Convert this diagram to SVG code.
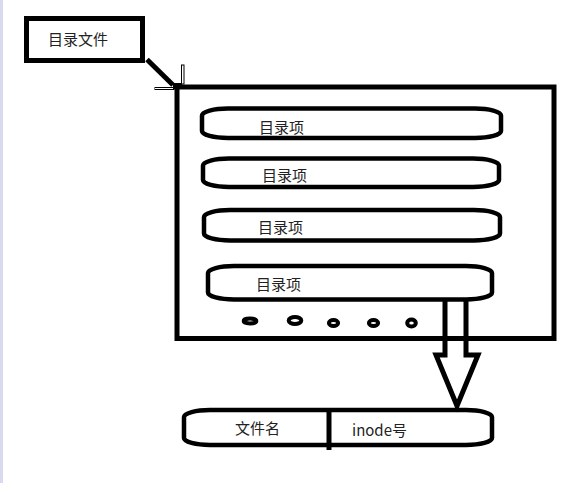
<svg xmlns="http://www.w3.org/2000/svg" width="584" height="483" viewBox="0 0 584 483">
  <defs>
    <style>
      .box { fill: none; stroke: #000; stroke-width: 5; }
      .pill { fill: #fff; stroke: #000; stroke-width: 4.5; }
      .dot { fill: none; stroke: #000; stroke-width: 4; }
      .lbl { font-family: "Noto Sans CJK SC", "Liberation Sans", sans-serif; font-size: 15px; fill: #222; }
      .thin { fill: none; stroke: #000; stroke-width: 1; }
    </style>
  </defs>
  <rect x="0" y="0" width="584" height="483" fill="#fff"/>
  <rect x="0" y="0" width="3" height="483" fill="#dadaee"/>

  <g id="dir-file">
    <rect class="box" x="26.5" y="18.5" width="116" height="42"/>
    <text class="lbl" x="48" y="44.5">目录文件</text>
  </g>

  <g id="dir-container">
    <rect class="box" x="177" y="87" width="377" height="251.5"/>
  </g>

  <g id="entry-1">
    <rect class="pill" x="202" y="108.5" width="299" height="29.5" rx="26" ry="7"/>
    <text class="lbl" x="259" y="132.5">目录项</text>
  </g>
  <g id="entry-2">
    <rect class="pill" x="203" y="158.5" width="296" height="28.5" rx="26" ry="7"/>
    <text class="lbl" x="262" y="180.5">目录项</text>
  </g>
  <g id="entry-3">
    <rect class="pill" x="204" y="210" width="296" height="30.5" rx="26" ry="7"/>
    <text class="lbl" x="258" y="232.5">目录项</text>
  </g>
  <g id="entry-4">
    <rect class="pill" x="208" y="266" width="284" height="33.5" rx="26" ry="7"/>
    <text class="lbl" x="256" y="289.5">目录项</text>
  </g>

  <g id="ellipsis">
    <ellipse class="dot" cx="250" cy="321" rx="6.3" ry="2.4"/>
    <ellipse class="dot" cx="295" cy="320.5" rx="6.3" ry="3.5"/>
    <ellipse class="dot" cx="333.5" cy="323" rx="4.6" ry="3"/>
    <ellipse class="dot" cx="373.5" cy="323" rx="4.6" ry="3"/>
    <ellipse class="dot" cx="411.5" cy="323" rx="4.3" ry="3.5"/>
  </g>

  <g id="entry-detail">
    <rect class="pill" x="184" y="410" width="308" height="35" rx="26" ry="7"/>
    <line x1="329" y1="408" x2="329" y2="450" stroke="#000" stroke-width="5"/>
    <text class="lbl" x="235" y="433.5">文件名</text>
    <text class="lbl" x="352" y="436">inode号</text>
  </g>

  <g id="connectors">
    <line x1="147" y1="59.5" x2="173" y2="85" stroke="#000" stroke-width="5"/>
    <rect class="thin" x="181.5" y="65" width="2.5" height="19"/>
    <rect class="thin" x="155" y="87.5" width="19" height="2"/>
    <rect x="173" y="83" width="9" height="6" fill="#000"/>
    <polyline points="445,300 445,355 436,355 457,406 478,355 466,355 466,300" fill="none" stroke="#000" stroke-width="5" stroke-linejoin="miter"/>
    <line x1="177" y1="338.5" x2="556" y2="338.5" stroke="#000" stroke-width="5"/>
  </g>
</svg>
